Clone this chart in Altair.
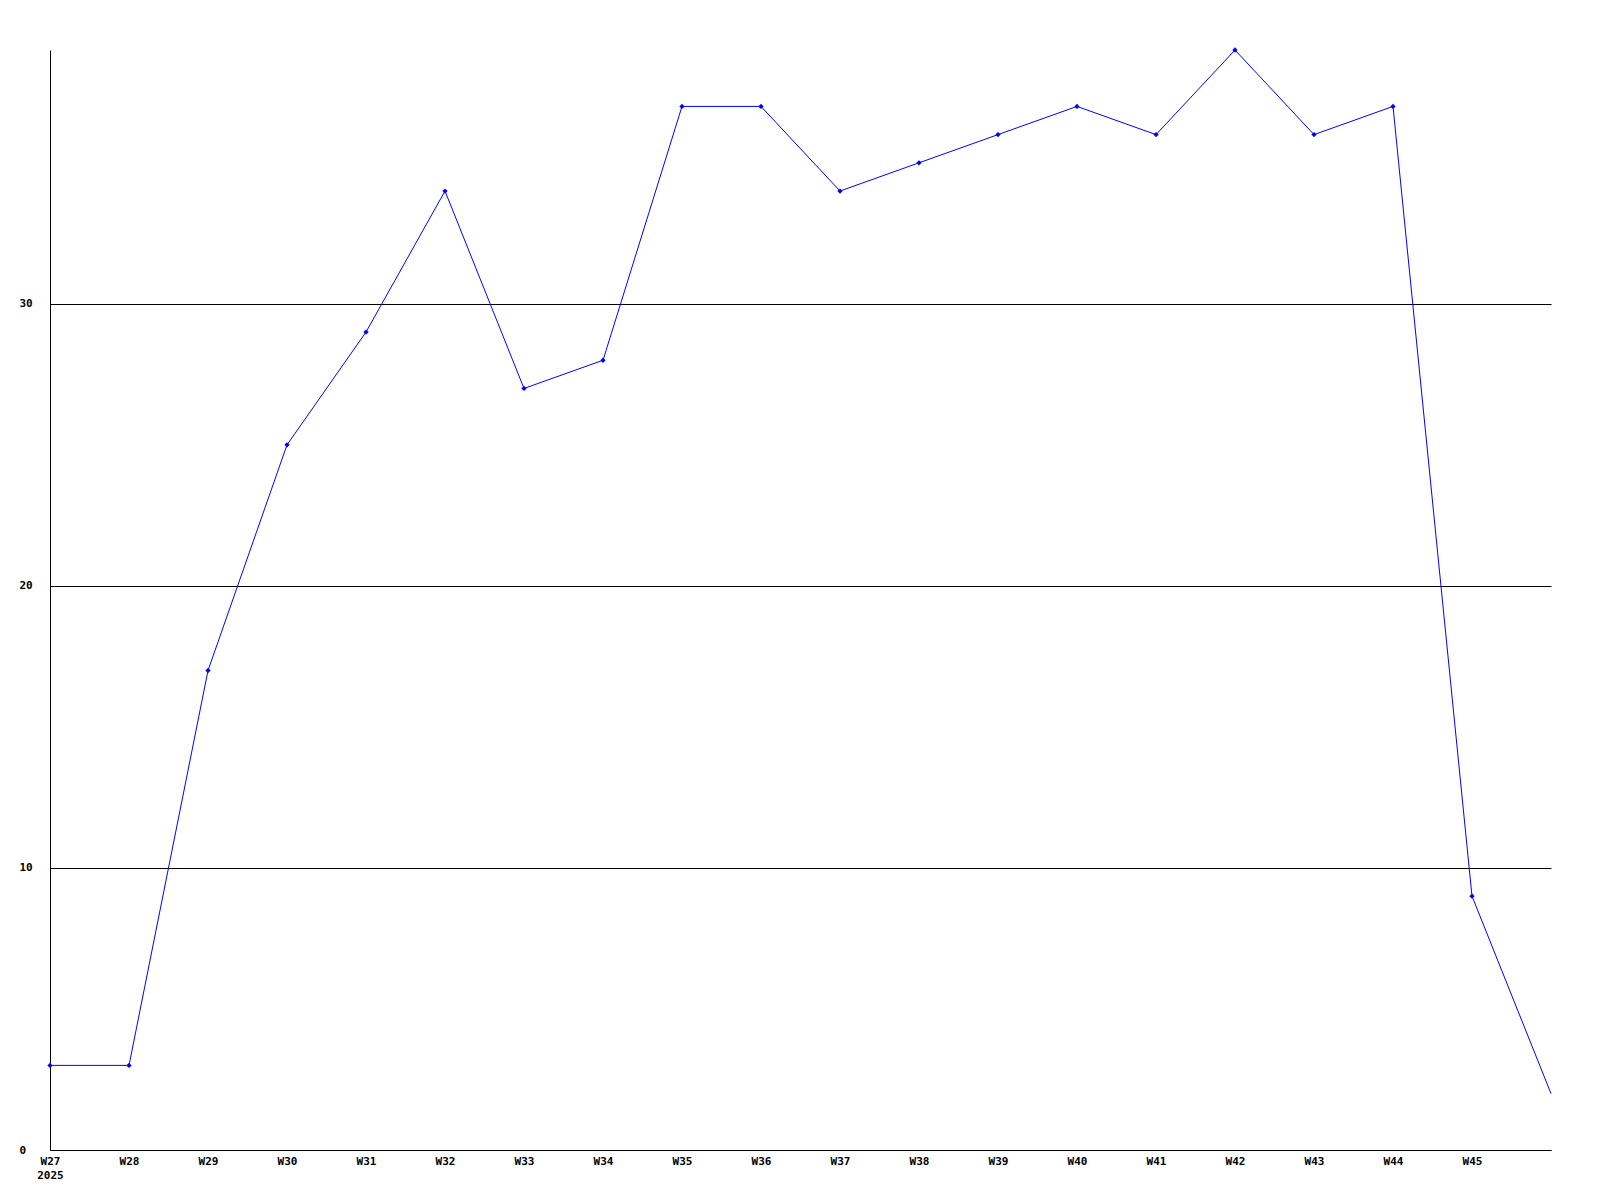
import altair as alt
import pandas as pd

weeks = ["W27", "W28", "W29", "W30", "W31", "W32", "W33", "W34", "W35", "W36",
         "W37", "W38", "W39", "W40", "W41", "W42", "W43", "W44", "W45", "W46"]
values = [3, 3, 17, 25, 29, 34, 27, 28, 37, 37, 34, 35, 36, 37, 36, 39, 36, 37, 9, 2]
has_marker = [True] * 19 + [False]
y_ticks = [0, 10, 20, 30]

df = pd.DataFrame({"idx": list(range(len(weeks))), "week": weeks, "value": values, "marker": has_marker})

label_expr = ("datum.value == 0 ? ['W27', '\u00a02025'] : "
              "datum.value < 19 ? 'W' + (27 + datum.value) : ''")

x = alt.X("idx:Q", scale=alt.Scale(domain=[0, 19], nice=False, zero=False),
          axis=alt.Axis(values=list(range(19)), labelExpr=label_expr, grid=False, ticks=False,
                        domain=True, domainColor="black", domainWidth=1, title=None,
                        labelFont="DejaVu Sans Mono", labelFontWeight="bold", labelFontSize=11,
                        labelColor="black", labelPadding=5, labelAlign="center", labelBaseline="top",
                        labelLineHeight=14, labelFlush=False, labelOverlap=False))
y = alt.Y("value:Q", scale=alt.Scale(domain=[0, 39], nice=False),
          axis=alt.Axis(values=y_ticks, grid=True, gridColor="black", gridWidth=1, gridOpacity=1,
                        ticks=False, domain=True, domainColor="black", domainWidth=1, title=None,
                        labelFont="DejaVu Sans Mono", labelFontWeight="bold", labelFontSize=11,
                        labelColor="black", labelPadding=31, labelAlign="left", labelBaseline="middle",
                        labelFlush=False, labelOverlap=False))

line = alt.Chart(df).mark_line(color="#0000ff", strokeWidth=1).encode(x=x, y=y)
pts = alt.Chart(df).transform_filter("datum.marker").mark_point(
    shape="diamond", filled=True, color="#0000ff", size=28, opacity=1).encode(x=x, y=y)

chart = (line + pts).properties(
    width=1501, height=1100,
    autosize=alt.AutoSizeParams(type="none"),
    padding={"left": 42, "top": 42, "right": 40, "bottom": 40},
    background="white",
).configure_view(stroke=None)

chart.save("out.html", embed_options={"renderer": "svg", "actions": False})
